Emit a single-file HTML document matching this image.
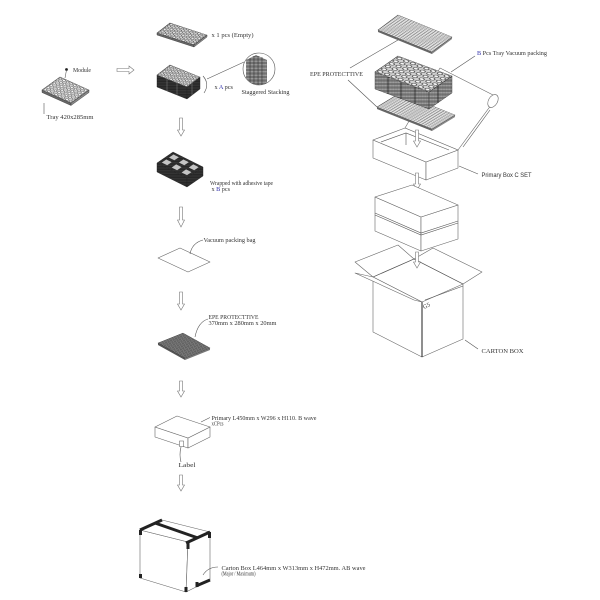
<!DOCTYPE html>
<html><head><meta charset="utf-8"><style>
html,body{margin:0;padding:0;background:#fff;width:600px;height:600px;overflow:hidden}
svg{display:block}
text{font-family:"Liberation Serif",serif;font-size:6px;fill:#333}
.s{font-family:"Liberation Sans",sans-serif}
.b{fill:#2a2aa8}
.ln{fill:none;stroke:#555;stroke-width:.6}
.bx{fill:#fff;stroke:#666;stroke-width:.6;stroke-linejoin:round}
.ar{fill:#fff;stroke:#777;stroke-width:.6}
.tp{stroke:#222;stroke-width:3;fill:none}
</style></head><body>
<svg width="600" height="600" viewBox="0 0 600 600" xmlns="http://www.w3.org/2000/svg">
<defs>
<pattern id="cell" patternUnits="userSpaceOnUse" width="1" height="1">
<rect width="1" height="1" fill="#cfcfcf"/>
<circle cx=".5" cy=".5" r=".34" fill="#f6f6f6" stroke="#333" stroke-width=".12"/>
</pattern>
<pattern id="gl" patternUnits="userSpaceOnUse" width="1" height="1">
<rect width="1" height="1" fill="#e4e4e4"/>
<path d="M0,0H1M0,0V1" stroke="#555" stroke-width=".24"/>
</pattern>
<pattern id="gd" patternUnits="userSpaceOnUse" width="1" height="1">
<rect width="1" height="1" fill="#8c8c8c"/>
<path d="M0,0H1M0,0V1" stroke="#222" stroke-width=".32"/>
</pattern>
<pattern id="dk" patternUnits="userSpaceOnUse" width="2" height="1.6">
<rect width="2" height="1.6" fill="#1e1e1e"/>
<path d="M0,.8H2" stroke="#6a6a6a" stroke-width=".3"/>
<path d="M1,0V1.6" stroke="#3a3a3a" stroke-width=".3"/>
</pattern>
<pattern id="md" patternUnits="userSpaceOnUse" width="1.6" height="1.4">
<rect width="1.6" height="1.4" fill="#bdbdbd"/>
<path d="M0,.7H1.6" stroke="#333" stroke-width=".55"/>
<path d="M.8,0V1.4" stroke="#555" stroke-width=".25"/>
</pattern>
<clipPath id="cc"><circle cx="259" cy="69" r="16"/></clipPath>
</defs>

<!-- ===== LEFT: single tray ===== -->
<polygon points="42,90 71,103 71,105.5 42,92.5" fill="#666" stroke="#333" stroke-width=".4"/>
<polygon points="71,103 89,90 89,92.5 71,105.5" fill="#888" stroke="#333" stroke-width=".4"/>
<g transform="matrix(3.625,1.625,3,-2.1667,42,90)"><rect width="8" height="6" fill="url(#cell)" stroke="#333" stroke-width=".12"/></g>
<circle cx="66.5" cy="69.5" r="1.4" fill="#222"/>
<line x1="66.5" y1="70" x2="65" y2="78" class="ln"/>
<text x="73" y="72" textLength="18" lengthAdjust="spacingAndGlyphs">Module</text>
<line x1="44" y1="103" x2="44" y2="114" class="ln"/>
<text x="46.5" y="119" textLength="47" lengthAdjust="spacingAndGlyphs">Tray 420x285mm</text>

<!-- right arrow -->
<polygon class="ar" points="117,68.5 129,68.5 129,66 134,70 129,74 129,71.5 117,71.5"/>

<!-- top tray x1 -->
<polygon points="157,33 194,45 194,47 157,35" fill="#666" stroke="#333" stroke-width=".4"/>
<polygon points="194,45 207,35 207,37 194,47" fill="#888" stroke="#333" stroke-width=".4"/>
<g transform="matrix(4.625,1.5,2.1667,-1.6667,157,33)"><rect width="8" height="6" fill="url(#cell)" stroke="#333" stroke-width=".12"/></g>
<text x="211.5" y="37" textLength="42" lengthAdjust="spacingAndGlyphs">x 1 pcs (Empty)</text>

<!-- stacked trays -->
<polygon points="157,75 187,87 187,99 157,87" fill="url(#dk)" stroke="#222" stroke-width=".4"/>
<polygon points="187,87 200,77 200,89 187,99" fill="url(#dk)" stroke="#222" stroke-width=".4"/>
<path d="M167,79V91M177,83V95M192,83V95" stroke="#999" stroke-width=".4"/>
<g transform="matrix(3.75,1.5,2.1667,-1.6667,157,75)"><rect width="8" height="6" fill="url(#cell)" stroke="#333" stroke-width=".12"/></g>
<path d="M203,76 Q210,84 204,93" class="ln"/>
<line x1="207" y1="79" x2="244" y2="62" class="ln"/>
<text x="214.5" y="89" textLength="18.5" lengthAdjust="spacingAndGlyphs">x <tspan class="b">A</tspan> pcs</text>
<circle cx="259" cy="69" r="16" fill="#fff" stroke="#555" stroke-width=".6"/>
<g clip-path="url(#cc)">
<polygon points="246,60 256,55 267,60 267,84 256,88 246,84" fill="url(#md)"/>
<path d="M250,58V86M254,56V88M258,56V88M262,57V87" stroke="#222" stroke-width=".5"/>
</g>
<text x="241.5" y="94" textLength="48" lengthAdjust="spacingAndGlyphs">Staggered Stacking</text>

<!-- down arrows left column -->
<polygon class="ar" points="179.5,118 182.5,118 182.5,130 184.5,130 181,136 177.5,130 179.5,130"/>
<polygon class="ar" points="179.5,207 182.5,207 182.5,220 184.5,220 181,227 177.5,220 179.5,220"/>
<polygon class="ar" points="179.5,292 182.5,292 182.5,304 184.5,304 181,310 177.5,304 179.5,304"/>
<polygon class="ar" points="179.5,381 182.5,381 182.5,391 184.5,391 181,397 177.5,391 179.5,391"/>
<polygon class="ar" points="179.5,475 182.5,475 182.5,485 184.5,485 181,491 177.5,485 179.5,485"/>

<!-- wrapped block -->
<polygon points="157,163 187,178 187,187 157,172" fill="url(#dk)" stroke="#222" stroke-width=".4"/>
<polygon points="187,178 203,167 203,176 187,187" fill="url(#dk)" stroke="#222" stroke-width=".4"/>
<polygon points="157,163 173,152 203,167 187,178" fill="url(#dk)" stroke="#222" stroke-width=".4"/>
<g transform="matrix(30,15,16,-11,157,163)" fill="#c4c4c4">
<rect x=".08" y=".15" width=".18" height=".28"/><rect x=".41" y=".15" width=".18" height=".28"/><rect x=".74" y=".15" width=".18" height=".28"/>
<rect x=".08" y=".6" width=".18" height=".28"/><rect x=".41" y=".6" width=".18" height=".28"/><rect x=".74" y=".6" width=".18" height=".28"/>
</g>
<text x="210" y="185" textLength="63" lengthAdjust="spacingAndGlyphs">Wrapped with adhesive tape</text>
<text x="211.5" y="191" textLength="18.5" lengthAdjust="spacingAndGlyphs">x <tspan class="b">B</tspan> pcs</text>

<!-- vacuum bag -->
<polygon class="bx" points="158,258 180,248 210,262 188,272"/>
<path d="M190,254 Q192,243 203,240" class="ln"/>
<text x="203.5" y="242" textLength="52" lengthAdjust="spacingAndGlyphs">Vacuum packing bag</text>

<!-- EPE left -->
<polygon points="158,343 185,358 185,360 158,345" fill="#555"/>
<polygon points="185,358 210,348 210,350 185,360" fill="#777"/>
<g transform="matrix(1.35,.75,1.25,-.5,158,343)"><rect width="20" height="20" fill="url(#gd)" stroke="#333" stroke-width=".3"/></g>
<path d="M195,337 Q198,322 208,319" class="ln"/>
<text x="208.5" y="319" font-size="5.8" textLength="50" lengthAdjust="spacingAndGlyphs">EPE PROTECTTIVE</text>
<text x="208.5" y="325" font-size="5.8" textLength="68" lengthAdjust="spacingAndGlyphs">370mm x 280mm x 20mm</text>

<!-- primary box left -->
<polygon class="bx" points="155,427 188,438 188,448 155,437"/>
<polygon class="bx" points="188,438 210,427 210,437 188,448"/>
<polygon class="bx" points="155,427 177,416 210,427 188,438"/>
<rect x="179.5" y="441" width="4" height="5.5" fill="#fff" stroke="#555" stroke-width=".5"/>
<path d="M181,447 Q179,455 181,462" class="ln"/>
<text x="178.5" y="467" textLength="17" lengthAdjust="spacingAndGlyphs">Label</text>
<line x1="201" y1="422" x2="210" y2="417.5" class="ln"/>
<text x="211.5" y="420" textLength="105" lengthAdjust="spacingAndGlyphs">Primary L450mm x W296 x H110. B wave</text>
<text x="211.5" y="425.5" textLength="12" lengthAdjust="spacingAndGlyphs">xCPcs</text>

<!-- carton box left -->
<polygon class="bx" points="140,530 188,542 186,592 140,578"/>
<polygon class="bx" points="188,542 210,532 210,580 186,592"/>
<polygon class="bx" points="140,530 162,520 210,532 188,542"/>
<path class="tp" d="M140,530 L162,520"/>
<path class="tp" d="M155,523 L198,538"/>
<path class="tp" d="M186,543 L210,532"/>
<path class="tp" d="M188,542 V549 M209.5,532 V538 M140.5,530 V535"/>
<path class="tp" d="M140.5,574 V578 M186,587 V592 M196,586 L210,580 M197,582 V587"/>
<path d="M203,575 Q208,567 218,567" class="ln"/>
<text x="221.5" y="570" font-size="5.5" textLength="144" lengthAdjust="spacingAndGlyphs">Carton Box L464mm x W313mm x H472mm. AB wave</text>
<text x="221.5" y="575.5" font-size="5.5" textLength="34" lengthAdjust="spacingAndGlyphs">(Major / Maximum)</text>

<!-- ===== RIGHT COLUMN ===== -->
<!-- lid -->
<polygon class="bx" points="405,128 440,68 497,97 458,150"/>
<ellipse cx="493" cy="101" rx="4.5" ry="7" transform="rotate(30 493 101)" class="bx"/>
<line x1="463" y1="147" x2="490" y2="110" class="ln"/>
<!-- primary box open -->
<polygon class="bx" points="373,140 426,162 426,180 373,158"/>
<polygon class="bx" points="426,162 458,150 458,168 426,180"/>
<polygon class="bx" points="373,140 405,128 458,150 426,162"/>
<polyline class="ln" points="381,142 406,133 449,150"/>
<line x1="406" y1="133" x2="406" y2="145" class="ln"/>
<polygon class="ar" points="415.5,130 418.5,130 418.5,141 420.5,141 417,147 413.5,141 415.5,141"/>
<line x1="459" y1="166" x2="478" y2="174" class="ln"/>
<text x="481.5" y="177" class="s" font-size="5.5" textLength="50" lengthAdjust="spacingAndGlyphs">Primary Box C SET</text>

<!-- bottom sheet -->
<polygon points="377,107 432,129 432,131 377,109" fill="#666"/>
<polygon points="432,129 455,115 455,117 432,131" fill="#888"/>
<g transform="matrix(2.75,1.1,1.643,-1,377,107)"><rect width="20" height="14" fill="url(#gl)" stroke="#444" stroke-width=".2"/></g>

<!-- tray stack -->
<polygon points="375,72 429,92 429,109 375,89" fill="url(#md)" stroke="#333" stroke-width=".4"/>
<polygon points="429,92 452,76 452,93 429,109" fill="url(#md)" stroke="#333" stroke-width=".4"/>
<path d="M388,77V94M401,82V99M415,87V104M438,86V103" stroke="#222" stroke-width=".8"/>
<g transform="matrix(6.75,2.5,3.833,-2.667,375,72)"><rect width="8" height="6" fill="url(#cell)" stroke="#333" stroke-width=".1"/></g>

<!-- top sheet -->
<polygon points="378,30 432,52 432,54 378,32" fill="#666"/>
<polygon points="432,52 452,37 452,39 432,54" fill="#888"/>
<g transform="matrix(2.7,1.1,1.4286,-1.0714,378,30)"><rect width="20" height="14" fill="url(#gl)" stroke="#444" stroke-width=".2"/></g>

<!-- EPE leaders -->
<line x1="350" y1="68" x2="398" y2="40" class="ln"/>
<line x1="348" y1="80" x2="377" y2="107" class="ln"/>
<text x="310" y="76" font-size="5.5" textLength="53" lengthAdjust="spacingAndGlyphs">EPE PROTECTTIVE</text>
<line x1="475" y1="56" x2="451" y2="72" class="ln"/>
<text x="477" y="55" font-size="5.5" textLength="70" lengthAdjust="spacingAndGlyphs"><tspan class="b">B</tspan> Pcs Tray Vacuum packing</text>

<polygon class="ar" points="415.5,173 418.5,173 418.5,184 420.5,184 417,190 413.5,184 415.5,184"/>

<!-- closed stacked boxes -->
<polygon class="bx" points="375,197 421,217 421,251 375,231"/>
<polygon class="bx" points="421,217 458,205 458,239 421,251"/>
<polygon class="bx" points="375,197 412,185 458,205 421,217"/>
<polyline class="ln" points="375,213 421,233 458,221"/>
<polyline class="ln" points="375,215 421,235 458,223"/>

<!-- carton box open -->
<polygon class="bx" points="373,277 355,262 398,245 414,259"/>
<polygon class="bx" points="414,259 433,248 482,272 463,284"/>
<polygon class="bx" points="373,277 422,302 422,357 373,332"/>
<polygon class="bx" points="422,302 463,284 463,339 422,357"/>
<polyline class="ln" points="373,277 414,259 463,284"/>
<polygon class="bx" points="373,277 355,273 414,300 422,302"/>
<line x1="425" y1="300" x2="463" y2="286" class="ln"/>
<line x1="422" y1="302" x2="422" y2="357" stroke="#333" stroke-width="1.1"/>
<polygon class="ar" points="415.5,252 418.5,252 418.5,262 420.5,262 417,268 413.5,262 415.5,262"/>
<text x="424" y="309" font-size="3" transform="rotate(-25 424 309)">G5</text>
<line x1="465" y1="340" x2="478" y2="349" class="ln"/>
<text x="481.5" y="353" font-size="5.5" textLength="42" lengthAdjust="spacingAndGlyphs">CARTON BOX</text>
</svg>
</body></html>
